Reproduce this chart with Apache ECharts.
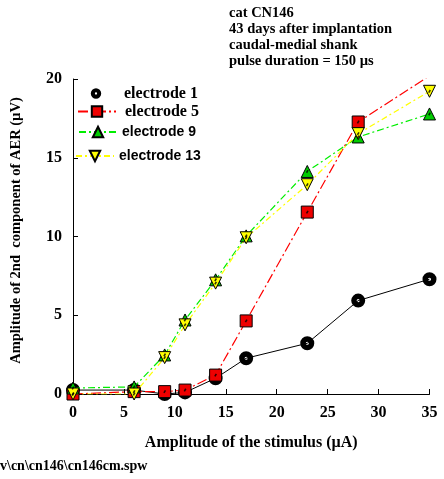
<!DOCTYPE html>
<html>
<head>
<meta charset="utf-8">
<script src="https://cdn.jsdelivr.net/npm/echarts@6/dist/echarts.min.js"></script>
<style>
  html, body { margin: 0; padding: 0; background: #fff; }
  #chart { width: 444px; height: 479px; }
</style>
</head>
<body>
<div id="chart"></div>
<script>
// Stimulus amplitudes (µA) and AER 2nd-component amplitudes (µV) per electrode
const stimulus = [0, 6, 9, 11, 14, 17, 23, 28, 35];
const electrode1 = [0.25, 0.25, 0, 0.1, 1.0, 2.27, 3.22, 5.93, 7.29];
const electrode5 = [0, 0.15, 0.15, 0.25, 1.2, 4.64, 11.55, 17.27, 20.2];
const electrode9 = [0.38, 0.45, 2.48, 4.7, 7.25, 10.04, 14.13, 16.32, 17.78];
const electrode13 = [0, 0, 2.31, 4.39, 7.04, 9.92, 13.29, 16.53, 19.22];

const xTicks = { min: 0, max: 35, step: 5 };
const yTicks = { min: 0, max: 20, step: 5 };

const infoLines = ['cat CN146', '43 days after implantation', 'caudal-medial shank', 'pulse duration = 150 µs'];
const fileLabel = 'v\\cn\\cn146\\cn146cm.spw';

const SERIF = '"Liberation Serif", "Times New Roman", serif';
const SANS = '"Liberation Sans", Arial, sans-serif';

// solid disc with a small hole in the middle
const RING = 'path://M0,-5A5,5 0 1,1 0,5A5,5 0 1,1 0,-5ZM0,-1.1A1.1,1.1 0 1,0 0,1.1A1.1,1.1 0 1,0 0,-1.1Z';

const pairs = ys => stimulus.map((x, i) => [x, ys[i]]);

const chart = echarts.init(document.getElementById('chart'), null, { renderer: 'canvas' });

function legendFor(name, left, centerY, font, size, textPad, lineOff) {
  const item = { name: name };
  if (lineOff) item.lineStyle = { opacity: 0 };
  return {
    data: [item],
    left: left,
    top: centerY - 6.5,
    padding: 0,
    itemWidth: 38,
    itemHeight: 13,
    selectedMode: false,
    textStyle: {
      fontFamily: font, fontWeight: 'bold', fontSize: size, color: '#000',
      padding: [0, 0, 0, textPad]
    }
  };
}

// tiny dark tick drawn in the centre of each marker
function centreTicks(ys, z) {
  return {
    type: 'scatter', data: pairs(ys), z: z, silent: true,
    symbol: 'rect', symbolSize: [1.6, 3], symbolRotate: -30,
    itemStyle: { color: '#000' }, clip: true
  };
}

chart.setOption({
  animation: false,
  backgroundColor: '#fff',
  title: {
    text: infoLines.join('\n'),
    left: 229,
    top: 5,
    padding: 0,
    textStyle: {
      fontFamily: SERIF, fontWeight: 'bold', fontSize: 14.5, lineHeight: 16.2, color: '#000'
    }
  },
  graphic: [{
    type: 'text',
    left: 0,
    top: 459,
    style: { text: fileLabel, fontFamily: SERIF, fontWeight: 'bold', fontSize: 14, fill: '#000' }
  }],
  legend: [
    legendFor('electrode 1', 76, 92, SERIF, 16, 4, true),
    legendFor('electrode 5', 77, 110, SERIF, 16, 4, false),
    legendFor('electrode 9', 78, 131.5, SANS, 14, 0, false),
    legendFor('electrode 13', 75, 155.5, SANS, 14, 0, false)
  ],
  grid: { left: 73, right: 14.5, top: 79, bottom: 85 },
  xAxis: {
    type: 'value',
    min: xTicks.min, max: xTicks.max, interval: xTicks.step,
    name: 'Amplitude of the stimulus (µA)',
    nameLocation: 'middle',
    nameGap: 41,
    nameTextStyle: { fontFamily: SERIF, fontWeight: 'bold', fontSize: 16, color: '#000' },
    axisLine: { lineStyle: { color: '#000', width: 1 } },
    axisTick: { inside: true, length: 5, lineStyle: { color: '#000' } },
    splitLine: { show: false },
    axisLabel: { fontFamily: SERIF, fontWeight: 'bold', fontSize: 16, color: '#000', margin: 11 }
  },
  yAxis: {
    type: 'value',
    min: yTicks.min, max: yTicks.max, interval: yTicks.step,
    name: 'Amplitude of 2nd  component of AER (µV)',
    nameLocation: 'middle',
    nameRotate: 90,
    nameGap: 49,
    nameTextStyle: { fontFamily: SERIF, fontWeight: 'bold', fontSize: 14.5, color: '#000', padding: [0, 0, 0, 12] },
    axisLine: { show: true, lineStyle: { color: '#000', width: 1 } },
    axisTick: { show: true, inside: true, length: 5, lineStyle: { color: '#000' } },
    splitLine: { show: false },
    axisLabel: { fontFamily: SERIF, fontWeight: 'bold', fontSize: 16, color: '#000', margin: 11 }
  },
  series: [
    {
      name: 'electrode 1', type: 'line', data: pairs(electrode1), z: 2,
      symbol: RING, symbolSize: 14,
      lineStyle: { color: '#000', width: 1 },
      itemStyle: { color: '#000' }
    },
    {
      name: 'electrode 5', type: 'line', data: pairs(electrode5), z: 3,
      symbol: 'rect', symbolSize: 12,
      lineStyle: { color: '#ff0000', width: 1.2, type: [10, 3, 2, 3] },
      itemStyle: { color: '#ee0000', borderColor: '#000', borderWidth: 1 }
    },
    {
      name: 'electrode 9', type: 'line', data: pairs(electrode9), z: 4,
      symbol: 'triangle', symbolSize: 12,
      lineStyle: { color: '#00ee00', width: 1.2, type: [7, 3, 2, 3] },
      itemStyle: { color: '#00cc00', borderColor: '#000', borderWidth: 1 }
    },
    {
      name: 'electrode 13', type: 'line', data: pairs(electrode13), z: 4,
      symbol: 'triangle', symbolRotate: 180, symbolSize: 12,
      lineStyle: { color: '#ffff00', width: 1.2, type: [6, 3, 2, 3] },
      itemStyle: { color: '#ffff00', borderColor: '#000', borderWidth: 1 }
    },
    centreTicks(electrode5, 6),
    centreTicks(electrode9, 6),
    centreTicks(electrode13, 6)
  ]
});
</script>
</body>
</html>
